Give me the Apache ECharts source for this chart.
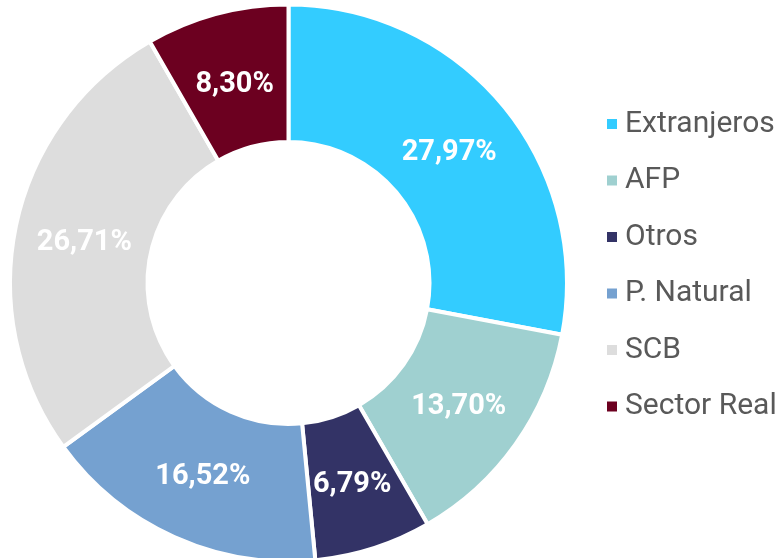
<!DOCTYPE html>
<html>
<head>
<meta charset="utf-8">
<script src="https://cdn.jsdelivr.net/npm/echarts@6/dist/echarts.min.js"></script>
<style>html,body{margin:0;padding:0;background:#fff}#c{width:781px;height:558px}</style>
</head>
<body>
<div id="c"></div>
<script>
const categories = ['Extranjeros', 'AFP', 'Otros', 'P. Natural', 'SCB', 'Sector Real'];
const values = [27.97, 13.70, 6.79, 16.52, 26.71, 8.30];
const colors = ['#33CCFF', '#9FD0D0', '#333366', '#75A1D0', '#DDDDDD', '#6C0020'];

const CX = 288.5, CY = 283;
const chart = echarts.init(document.getElementById('c'), null, {renderer: 'canvas'});
chart.setOption({
  animation: false,
  color: colors,
  legend: {
    orient: 'vertical',
    left: 602,
    top: 104,
    icon: 'rect',
    itemWidth: 10,
    itemHeight: 10,
    itemGap: 26.5,
    itemStyle: {borderWidth: 0},
    textStyle: {fontFamily: 'Roboto', fontSize: 30, color: '#595959', lineHeight: 30, padding: [0, 0, 0, 3]},
    data: categories
  },
  series: [{
    type: 'pie',
    center: [CX, CY],
    radius: [141, 278.5],
    startAngle: 90,
    clockwise: true,
    avoidLabelOverlap: false,
    itemStyle: {borderColor: '#ffffff', borderWidth: 4},
    label: {
      show: true,
      position: 'inside',
      color: '#ffffff',
      fontFamily: 'Roboto',
      fontWeight: 'bold',
      fontSize: 29,
      formatter: p => p.value.toFixed(2).replace('.', ',') + '%'
    },
    labelLayout: function (params) {
      const r = params.labelRect;
      const mx = r.x + r.width / 2, my = r.y + r.height / 2;
      const ddx = mx - CX, ddy = my - CY;
      const len = Math.sqrt(ddx * ddx + ddy * ddy) || 1;
      return {x: mx - 4 * ddx / len, y: my - 4 * ddy / len + 3, align: 'center', verticalAlign: 'middle'};
    },
    labelLine: {show: false},
    data: categories.map((n, i) => ({name: n, value: values[i]}))
  }]
});
</script>
</body>
</html>
